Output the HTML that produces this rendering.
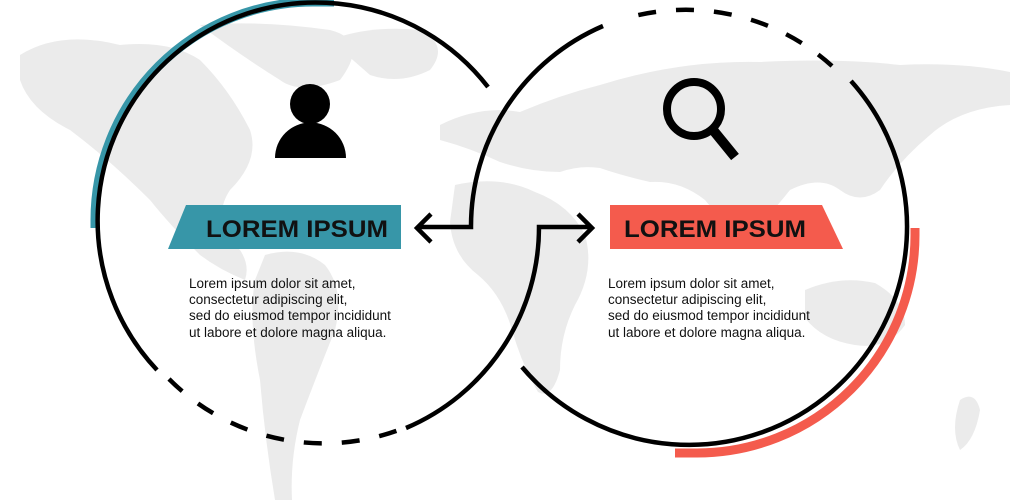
<!DOCTYPE html>
<html><head><meta charset="utf-8"><style>
html,body{margin:0;padding:0;background:#fff;}
svg{display:block;}
text{font-family:"Liberation Sans",sans-serif;}
</style></head><body>
<svg width="1010" height="500" viewBox="0 0 1010 500" xmlns="http://www.w3.org/2000/svg">
<g fill="#ebebeb">
<path d="M20,55 Q60,30 120,45 Q170,40 200,60 Q230,90 250,130 Q260,160 230,190 Q210,220 240,250 Q250,265 245,280 Q220,270 200,255 Q170,225 150,200 Q110,160 70,130 Q30,110 20,80 Z"/>
<path d="M200,25 Q260,20 330,30 Q370,40 340,80 Q300,95 280,80 Q240,55 200,25 Z"/>
<path d="M330,40 Q370,25 420,30 Q450,45 430,70 Q400,85 370,75 Z"/>
<path d="M265,255 Q300,245 325,265 Q345,290 335,330 Q315,380 300,420 Q290,460 292,500 L275,500 Q265,440 260,380 Q248,320 255,280 Z"/>
<path d="M440,125 Q480,105 520,112 Q560,95 600,85 Q680,60 760,62 Q840,58 900,65 Q960,62 1010,72 L1010,105 Q960,108 930,135 Q900,160 880,190 Q860,205 840,190 Q820,175 790,190 Q770,215 750,235 Q725,225 705,200 Q680,180 650,182 Q620,175 600,168 Q580,165 560,172 Q530,172 500,162 Q470,148 440,140 Z"/>
<path d="M455,185 Q500,175 535,192 Q570,205 585,235 Q595,270 575,305 Q560,335 560,370 Q552,400 538,392 Q522,365 512,330 Q502,295 478,275 Q452,255 450,222 Z"/>
<path d="M805,290 Q840,275 875,283 Q905,300 905,325 Q888,350 855,345 Q822,340 805,318 Z"/>
<path d="M960,400 Q975,390 980,410 Q975,440 960,450 Q950,430 960,400 Z"/>
</g>
<g fill="none" stroke-width="9">
<path d="M95,228 L95,220 A218,218 0 0 1 313,2 L334,2" stroke="#3796a8"/>
<path d="M915,228 L915,235 A218,218 0 0 1 697,453 L675,453" stroke="#f45b4d"/>
</g>
<g fill="none" stroke="#000" stroke-width="4.5">
<path d="M488,87 A218,218 0 1 0 157,370"/>
<path d="M169,379 A218,218 0 0 0 404,428" stroke-dasharray="18,20"/>
<path d="M406,428 A218,218 0 0 0 539,227 L590,227"/>
<path d="M578,214 L592,228 L578,242"/>
<path d="M522,367 A218,218 0 1 0 851,81"/>
<path d="M832,66 A218,218 0 0 0 620,20" stroke-dasharray="18,20"/>
<path d="M603,26 A218,218 0 0 0 471,227 L418,227"/>
<path d="M431,214 L417,228 L431,242"/>
</g>
<circle cx="310" cy="104" r="20" fill="#000"/>
<path d="M275,158 A35,35 0 0 1 346,158 Z" fill="#000"/>
<circle cx="694" cy="109" r="27" fill="none" stroke="#000" stroke-width="8"/>
<path d="M713,130 L735,157" stroke="#000" stroke-width="10"/>
<polygon points="168,249 186,205 401,205 401,249" fill="#3796a8"/>
<text x="297" y="237" text-anchor="middle" font-size="24" font-weight="bold" fill="#111" textLength="182" lengthAdjust="spacingAndGlyphs">LOREM IPSUM</text>
<polygon points="610,205 822,205 843,249 610,249" fill="#f45b4d"/>
<text x="715" y="237" text-anchor="middle" font-size="24" font-weight="bold" fill="#111" textLength="182" lengthAdjust="spacingAndGlyphs">LOREM IPSUM</text>
<g font-size="13.5" fill="#111">
<text x="189" y="288">Lorem ipsum dolor sit amet,</text>
<text x="189" y="304">consectetur adipiscing elit,</text>
<text x="189" y="320">sed do eiusmod tempor incididunt</text>
<text x="189" y="337">ut labore et dolore magna aliqua.</text>
<text x="608" y="288">Lorem ipsum dolor sit amet,</text>
<text x="608" y="304">consectetur adipiscing elit,</text>
<text x="608" y="320">sed do eiusmod tempor incididunt</text>
<text x="608" y="337">ut labore et dolore magna aliqua.</text>
</g>
</svg>
</body></html>
